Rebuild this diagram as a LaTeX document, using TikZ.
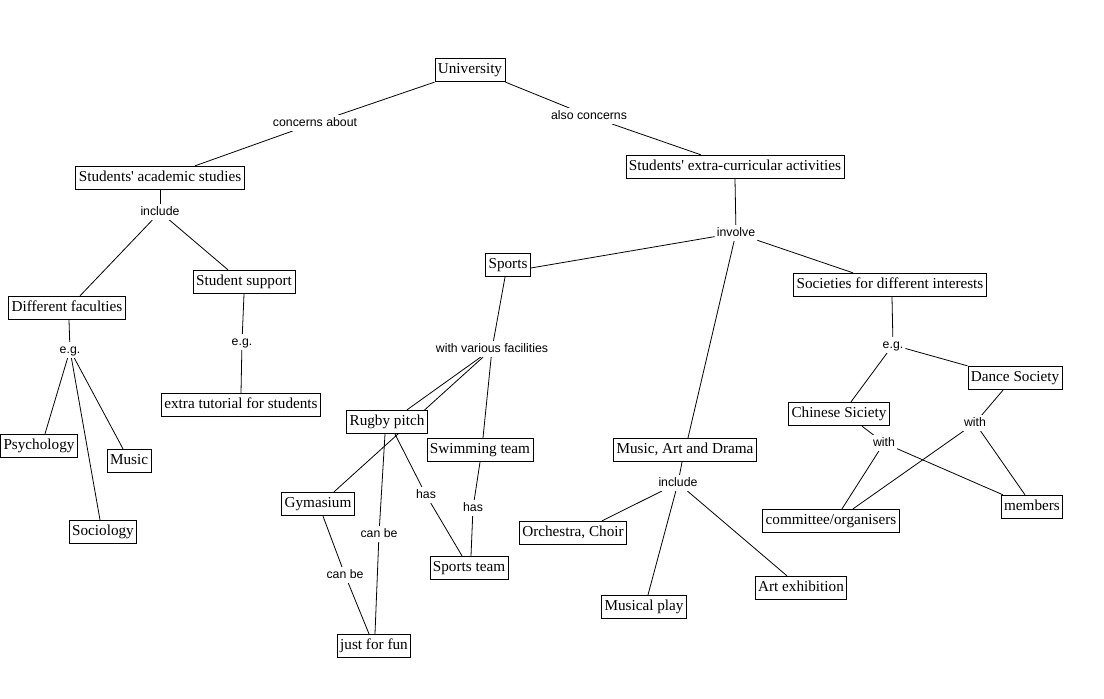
\documentclass[tikz,border=0pt]{standalone}
\usepackage{fontspec}
\setmainfont{Liberation Serif}
\newfontfamily\lblfont{Liberation Sans}
\usetikzlibrary{backgrounds}
\begin{document}
\begin{tikzpicture}[x=1pt,y=-1pt,
  concept/.style={draw=black, line width=0.8pt, fill=white, font=\fontsize{15.2}{17}\selectfont, inner xsep=3pt, inner ysep=5pt, text height=10.5pt, text depth=3pt},
  linklabel/.style={fill=white, font=\lblfont\fontsize{12.3}{14}\selectfont, inner xsep=2pt, inner ysep=2pt, text height=9pt, text depth=2.5pt},
  conn/.style={line width=0.8pt, draw=black}]
\useasboundingbox (0,0) rectangle (1104,699);
% concepts
\node[concept] (u) at (470,70) {University};
\node[concept] (acad) at (160,178) {Students\textquotesingle{} academic studies};
\node[concept] (extra) at (735,167) {Students\textquotesingle{} extra-curricular activities};
\node[concept] (fac) at (67,308) {Different faculties};
\node[concept] (sup) at (244,282) {Student support};
\node[concept] (tut) at (241,405) {extra tutorial for students};
\node[concept] (psy) at (39,446) {Psychology};
\node[concept] (mus) at (129,461) {Music};
\node[concept] (soc) at (103,532) {Sociology};
\node[concept] (sports) at (508,265) {Sports};
\node[concept] (rugby) at (387,422) {Rugby pitch};
\node[concept] (swim) at (480,450) {Swimming team};
\node[concept] (gym) at (318,504) {Gymasium};
\node[concept] (steam) at (469,568) {Sports team};
\node[concept] (fun) at (374,646) {just for fun};
\node[concept] (mad) at (685,450) {Music, Art and Drama};
\node[concept] (orch) at (573,533) {Orchestra, Choir};
\node[concept] (play) at (644,607) {Musical play};
\node[concept] (art) at (801,588) {Art exhibition};
\node[concept] (socs) at (890,285) {Societies for different interests};
\node[concept] (dance) at (1015,378) {Dance Society};
\node[concept] (chin) at (839,414) {Chinese Siciety};
\node[concept] (comm) at (831,521) {committee/organisers};
\node[concept] (mem) at (1032,507) {members};
% link labels
\node[linklabel] (l1) at (315,123) {concerns about};
\node[linklabel] (l2) at (589,116) {also concerns};
\node[linklabel] (l3) at (160,212) {include};
\node[linklabel] (l4) at (736,233) {involve};
\node[linklabel] (l5) at (70,350) {e.g.};
\node[linklabel] (l6) at (242,342) {e.g.};
\node[linklabel] (l7) at (492,349) {with various facilities};
\node[linklabel] (l8) at (426,495) {has};
\node[linklabel] (l9) at (473,508) {has};
\node[linklabel] (l10) at (379,534) {can be};
\node[linklabel] (l11) at (345,575) {can be};
\node[linklabel] (l12) at (678,483) {include};
\node[linklabel] (l13) at (893,345) {e.g.};
\node[linklabel] (l14) at (884,443) {with};
\node[linklabel] (l15) at (975,423) {with};
% connectors
\begin{pgfonlayer}{background}
\draw[conn] (u.south west) -- (l1);
\draw[conn] (l1) -- ([xshift=35pt]acad.north);
\draw[conn] (u.south east) -- (l2);
\draw[conn] (l2) -- ([xshift=-34pt]extra.north);
\draw[conn] (acad.south) -- (l3);
\draw[conn] (l3) -- ([xshift=13pt]fac.north);
\draw[conn] (l3) -- ([xshift=-16pt]sup.north);
\draw[conn] ([xshift=2pt]fac.south) -- (l5);
\draw[conn] (l5) -- ([xshift=6pt]psy.north);
\draw[conn] (l5) -- ([xshift=-3pt]soc.north);
\draw[conn] (l5) -- ([xshift=-6pt]mus.north);
\draw[conn] (sup.south) -- (l6);
\draw[conn] (l6) -- (tut.north);
\draw[conn] (extra.south) -- (l4);
\draw[conn] (l4) -- ([yshift=-3pt]sports.east);
\draw[conn] (l4) -- ([xshift=3pt]mad.north);
\draw[conn] (l4) -- ([xshift=-37pt]socs.north);
\draw[conn] ([xshift=-3pt]sports.south) -- (l7);
\draw[conn] (l7) -- ([xshift=3pt]swim.north);
\draw[conn] (l7) -- ([xshift=20pt]rugby.north);
\draw[conn] (l7) -- ([xshift=16pt]gym.north);
\draw[conn] ([xshift=8pt]rugby.south) -- (l8);
\draw[conn] (l8) -- ([xshift=-7pt]steam.north);
\draw[conn] (swim.south) -- (l9);
\draw[conn] (l9) -- ([xshift=2pt]steam.north);
\draw[conn] ([xshift=-2pt]rugby.south) -- (l10);
\draw[conn] (l10) -- ([xshift=1pt]fun.north);
\draw[conn] ([xshift=5pt]gym.south) -- (l11);
\draw[conn] (l11) -- ([xshift=-5pt]fun.north);
\draw[conn] ([xshift=-3pt]mad.south) -- (l12);
\draw[conn] (l12) -- ([xshift=29pt]orch.north);
\draw[conn] (l12) -- ([xshift=4pt]play.north);
\draw[conn] (l12) -- ([xshift=-14pt]art.north);
\draw[conn] ([xshift=2pt]socs.south) -- (l13);
\draw[conn] (l13) -- (dance.north west);
\draw[conn] (l13) -- ([xshift=12pt]chin.north);
\draw[conn] ([xshift=23pt]chin.south) -- (l14);
\draw[conn] (l14) -- ([xshift=11pt]comm.north);
\draw[conn] (l14) -- ([xshift=-29pt]mem.north);
\draw[conn] ([xshift=-12pt]dance.south) -- (l15);
\draw[conn] (l15) -- ([xshift=22pt]comm.north);
\draw[conn] (l15) -- ([xshift=-7pt]mem.north);
\end{pgfonlayer}
\end{tikzpicture}
\end{document}
